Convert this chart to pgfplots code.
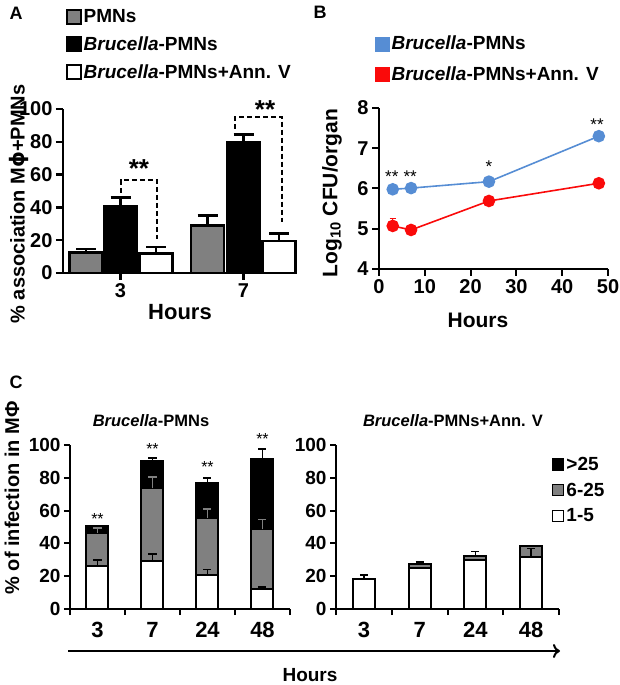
\documentclass[border=0pt]{standalone}
\usepackage{pgfplots}
\pgfplotsset{compat=1.18}
\usepackage{fontspec}
\setmainfont{Liberation Sans}
\newfontfamily\djv{DejaVu Sans}
\usetikzlibrary{arrows.meta}
\definecolor{bblue}{RGB}{86,141,212}
\definecolor{rred}{RGB}{250,10,10}
\definecolor{mgray}{RGB}{128,128,128}
\newcommand{\fs}[1]{\fontsize{#1bp}{#1bp}\selectfont\bfseries}
\newcommand{\fr}[1]{\fontsize{#1bp}{#1bp}\selectfont}
\pgfplotsset{
  common/.style={scale only axis, anchor=south west, clip=false,
    axis x line*=bottom, axis y line*=left,
    tick align=outside, /pgf/number format/assume math mode=true},
}
\begin{document}
\begin{tikzpicture}
\path[use as bounding box] (0bp,0bp) rectangle (620bp,685bp);

% ---------------- Panel A ----------------
\begin{axis}[common, at={(63bp,412bp)}, width=234bp, height=164bp,
  xmin=0, xmax=234, ymin=0, ymax=100,
  axis line style={line width=2.5bp,-},
  xtick={57.5,180.5}, xticklabels={3,7}, ytick={0,20,...,100},
  major tick length=7bp, tick style={line width=2.5bp,black},
  tick label style={font=\fs{20}},
  legend style={at={(0.0128,1.62)}, anchor=north west, draw=none, fill=none,
    inner sep=0pt, row sep=8.5bp, font=\fs{19}},
  legend cell align=left]
\addplot[ybar, bar width=33bp, bar shift=0pt, fill=mgray, draw=black, line width=2.5bp, forget plot,
  error bars/.cd, y dir=plus, y explicit, error bar style={line width=2.5bp,black},
  error mark options={rotate=90, line width=2.5bp, mark size=10bp, black}]
  coordinates {(23,12.5) +- (0,2) (144.5,29) +- (0,6)};
\addplot[ybar, bar width=33bp, bar shift=0pt, fill=black, draw=black, line width=2.5bp, forget plot,
  error bars/.cd, y dir=plus, y explicit, error bar style={line width=2.5bp,black},
  error mark options={rotate=90, line width=2.5bp, mark size=10bp, black}]
  coordinates {(57.5,41) +- (0,5) (180.5,80) +- (0,4.5)};
\addplot[ybar, bar width=33bp, bar shift=0pt, fill=white, draw=black, line width=2.5bp, forget plot,
  error bars/.cd, y dir=plus, y explicit, error bar style={line width=2.5bp,black},
  error mark options={rotate=90, line width=2.5bp, mark size=10bp, black}]
  coordinates {(93,12) +- (0,4) (216,19.5) +- (0,4.5)};
\addlegendimage{legend image code/.code={\draw[fill=mgray,draw=black,line width=1.5bp] (0bp,-7bp) rectangle (14bp,7bp);}}
\addlegendentry{PMNs}
\addlegendimage{legend image code/.code={\draw[fill=black,draw=black,line width=1.5bp] (0bp,-7bp) rectangle (14bp,7bp);}}
\addlegendentry{\textit{Brucella}-PMNs}
\addlegendimage{legend image code/.code={\draw[fill=white,draw=black,line width=1.5bp] (0bp,-7bp) rectangle (14bp,7bp);}}
\addlegendentry{\textit{Brucella}-PMNs+Ann. V}
\draw[line width=2bp, dash pattern=on 5bp off 3bp] (axis cs:57.5,49) -- (axis cs:57.5,56.7) -- (axis cs:94,56.7) -- (axis cs:94,21);
\draw[line width=2bp, dash pattern=on 5bp off 3bp] (axis cs:172,88) -- (axis cs:172,95.3) -- (axis cs:219,95.3) -- (axis cs:219,31);
\node[anchor=base] at (axis cs:76,58) {\fs{26}**};
\node[anchor=base] at (axis cs:202,94) {\fs{26}**};
\end{axis}

% ---------------- Panel B ----------------
\begin{axis}[common, at={(379bp,416bp)}, width=229bp, height=161bp,
  xmin=0, xmax=50, ymin=4, ymax=8,
  axis line style={line width=2bp,-},
  xtick={0,10,...,50}, ytick={4,5,...,8},
  major tick length=7bp, tick style={line width=2bp,black},
  tick label style={font=\fs{20}},
  legend style={at={(-0.0175,1.46)}, anchor=north west, draw=none, fill=none,
    inner sep=0pt, row sep=11.5bp, font=\fs{19}},
  legend cell align=left]
\addplot[bblue, line width=1.6bp, mark=*, mark size=5.5bp, mark options={fill=bblue, draw=bblue}, forget plot]
  coordinates {(3,5.98) (7,6.01) (24,6.17) (48,7.30)};
\addplot[rred, line width=1.6bp, mark=*, mark size=5.5bp, mark options={fill=rred, draw=rred}, forget plot,
  error bars/.cd, y dir=plus, y explicit, error bar style={line width=1.5bp,rred},
  error mark options={rotate=90, line width=1.5bp, mark size=3bp, rred}]
  coordinates {(3,5.07) +- (0,0.19) (7,4.97) +- (0,0.09) (24,5.69) +- (0,0) (48,6.13) +- (0,0)};
\addlegendimage{legend image code/.code={\fill[bblue] (0bp,-7bp) rectangle (14bp,7bp);}}
\addlegendentry{\textit{Brucella}-PMNs}
\addlegendimage{legend image code/.code={\fill[rred] (0bp,-7bp) rectangle (14bp,7bp);}}
\addlegendentry{\textit{Brucella}-PMNs+Ann. V}
\node[anchor=base] at (axis cs:2.8,6.14) {\fr{17}**};
\node[anchor=base] at (axis cs:6.8,6.14) {\fr{17}**};
\node[anchor=base] at (axis cs:24,6.39) {\fr{17}*};
\node[anchor=base] at (axis cs:47.6,7.45) {\fr{17}**};
\end{axis}

% ---------------- Panel C left ----------------
\begin{axis}[common, at={(70bp,76bp)}, width=220bp, height=164bp,
  xmin=0.5, xmax=4.5, ymin=0, ymax=100,
  axis line style={line width=2bp,-},
  xtick={1,2,3,4}, xticklabels={3,7,24,48}, ytick={0,20,...,100},
  major x tick style={draw=none},
  minor xtick={0.5,1.5,2.5,3.5,4.5}, minor tick length=6bp,
  major tick length=6bp, tick style={line width=2bp,black},
  yticklabel style={font=\fs{19}}, xticklabel style={font=\fs{22}, yshift=-4bp}]
\addplot[ybar, bar width=22bp, bar shift=0pt, fill=black, draw=black, line width=2bp,
  error bars/.cd, y dir=plus, y explicit, error bar style={line width=1.5bp,black},
  error mark options={rotate=90, line width=1.5bp, mark size=4bp, black}]
  coordinates {(1,50.5) +- (0,0) (2,90) +- (0,2) (3,77) +- (0,3) (4,91.5) +- (0,6)};
\addplot[ybar, bar width=22bp, bar shift=0pt, fill=mgray, draw=black, line width=2bp,
  error bars/.cd, y dir=plus, y explicit, error bar style={line width=1.5bp,mgray},
  error mark options={rotate=90, line width=1.5bp, mark size=4bp, mgray}]
  coordinates {(1,46.5) +- (0,3) (2,73.5) +- (0,7) (3,55.5) +- (0,5.5) (4,48.5) +- (0,6)};
\addplot[ybar, bar width=22bp, bar shift=0pt, fill=white, draw=black, line width=2bp,
  error bars/.cd, y dir=plus, y explicit, error bar style={line width=1.5bp,black},
  error mark options={rotate=90, line width=1.5bp, mark size=4bp, black}]
  coordinates {(1,26) +- (0,4) (2,29) +- (0,4.5) (3,21) +- (0,3) (4,12) +- (0,1.5)};
\node[anchor=base] at (axis cs:1,51.8) {\fr{16}**};
\node[anchor=base] at (axis cs:2,94.5) {\fr{16}**};
\node[anchor=base] at (axis cs:3,83) {\fr{16}**};
\node[anchor=base] at (axis cs:4,100.6) {\fr{16}**};
\end{axis}

% ---------------- Panel C right ----------------
\begin{axis}[common, at={(336bp,76bp)}, width=223bp, height=164bp,
  xmin=0.5, xmax=4.5, ymin=0, ymax=100,
  axis line style={line width=2bp,-},
  xtick={1,2,3,4}, xticklabels={3,7,24,48}, ytick={0,20,...,100},
  major x tick style={draw=none},
  minor xtick={0.5,1.5,2.5,3.5,4.5}, minor tick length=6bp,
  major tick length=6bp, tick style={line width=2bp,black},
  yticklabel style={font=\fs{19}}, xticklabel style={font=\fs{22}, yshift=-4bp},
  legend style={at={(0.969,0.94)}, anchor=north west, draw=none, fill=none,
    inner sep=0pt, row sep=7bp, font=\fs{19}},
  legend cell align=left]
\addplot[ybar, bar width=22bp, bar shift=0pt, fill=mgray, draw=black, line width=2bp, forget plot,
  error bars/.cd, y dir=plus, y explicit, error bar style={line width=1.5bp,black},
  error mark options={rotate=90, line width=1.5bp, mark size=4bp, black}]
  coordinates {(2,27.4) +- (0,1.4) (3,32.5) +- (0,2.5) (4,38.4) +- (0,0)};
\addplot[ybar, bar width=22bp, bar shift=0pt, fill=white, draw=black, line width=2bp, forget plot,
  error bars/.cd, y dir=plus, y explicit, error bar style={line width=1.5bp,black},
  error mark options={rotate=90, line width=1.5bp, mark size=4bp, black}]
  coordinates {(1,18.3) +- (0,2.4) (2,25) +- (0,0) (3,29.9) +- (0,0) (4,31.9) +- (0,5)};
\addlegendimage{legend image code/.code={\draw[fill=black,draw=black,line width=1.2bp] (0bp,-5.5bp) rectangle (11bp,5.5bp);}}
\addlegendentry{>25}
\addlegendimage{legend image code/.code={\draw[fill=mgray,draw=black,line width=1.2bp] (0bp,-5.5bp) rectangle (11bp,5.5bp);}}
\addlegendentry{6-25}
\addlegendimage{legend image code/.code={\draw[fill=white,draw=black,line width=1.2bp] (0bp,-5.5bp) rectangle (11bp,5.5bp);}}
\addlegendentry{1-5}
\end{axis}

% ---------------- Free text ----------------
\node at (16bp,672bp) {\fs{18}A};
\node at (320bp,672.5bp) {\fs{18}B};
\node at (16bp,303bp) {\fs{18}C};
\node[rotate=90] at (19bp,481bp) {\fs{20}\% association M{\djv\bfseries ϕ}+PMNs};
\node at (180bp,373bp) {\fs{22}Hours};
\node[rotate=90] at (332bp,492bp) {\fs{21}Log\textsubscript{10} CFU/organ};
\node at (478bp,365bp) {\fs{21}Hours};
\node[rotate=90] at (12bp,187bp) {\fs{20}\% of infection in MΦ};
\node at (151bp,264bp) {\fs{16.5}\textit{Brucella}-PMNs};
\node at (453bp,264bp) {\fs{16.5}\textit{Brucella}-PMNs+Ann. V};
\draw[line width=2bp, -{To[length=7bp,width=14bp]}] (68bp,34bp) -- (560bp,34bp);
\node at (310bp,10bp) {\fs{19}Hours};
\end{tikzpicture}
\end{document}
